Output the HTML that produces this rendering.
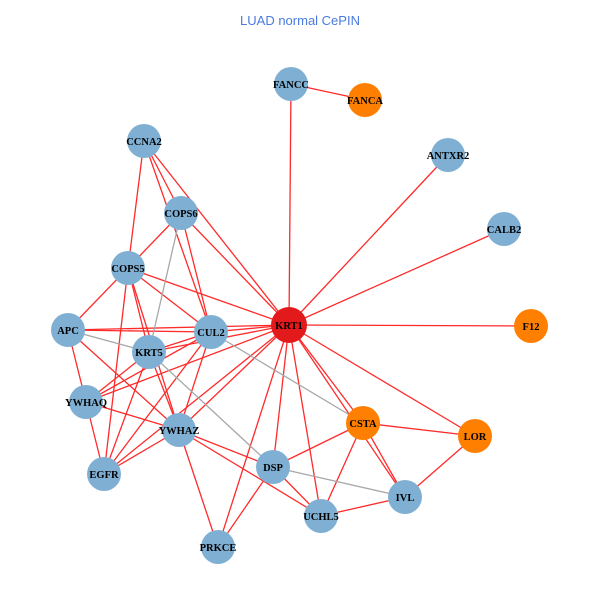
<!DOCTYPE html>
<html><head><style>body{margin:0;background:#fff}svg{display:block}</style></head><body>
<svg width="600" height="600" xmlns="http://www.w3.org/2000/svg">
<text x="300" y="25" text-anchor="middle" font-family="Liberation Sans, sans-serif" font-size="13" fill="#4a7be0">LUAD normal CePIN</text>
<g id="e" stroke-width="1.3"></g>
<g id="n"></g>
<script>
const N={FANCC:[291,84,'b'],FANCA:[365,100,'o'],CCNA2:[144,141,'b'],ANTXR2:[448,155,'b'],COPS6:[181,213,'b'],CALB2:[504,229,'b'],COPS5:[128,268,'b'],APC:[68,330,'b'],KRT1:[289,325,'r'],CUL2:[211,332,'b'],F12:[531,326,'o'],KRT5:[149,352,'b'],YWHAQ:[86,402,'b'],CSTA:[363,423,'o'],LOR:[475,436,'o'],YWHAZ:[179,430,'b'],EGFR:[104,474,'b'],DSP:[273,467,'b'],IVL:[405,497,'b'],UCHL5:[321,516,'b'],PRKCE:[218,547,'b']};
const red=`KRT1-FANCC KRT1-ANTXR2 KRT1-CALB2 KRT1-F12 KRT1-LOR KRT1-CSTA KRT1-IVL KRT1-UCHL5 KRT1-DSP KRT1-PRKCE KRT1-YWHAZ KRT1-EGFR KRT1-YWHAQ KRT1-KRT5 KRT1-CUL2 KRT1-APC KRT1-COPS5 KRT1-COPS6 KRT1-CCNA2 FANCC-FANCA CCNA2-COPS6 CCNA2-COPS5 CCNA2-CUL2 COPS6-COPS5 COPS6-CUL2 COPS5-APC COPS5-KRT5 COPS5-CUL2 COPS5-EGFR COPS5-YWHAZ APC-CUL2 APC-YWHAQ APC-YWHAZ CUL2-KRT5 CUL2-YWHAQ CUL2-YWHAZ CUL2-EGFR KRT5-YWHAZ KRT5-YWHAQ KRT5-EGFR YWHAQ-YWHAZ YWHAQ-EGFR YWHAZ-EGFR YWHAZ-DSP YWHAZ-UCHL5 YWHAZ-PRKCE DSP-CSTA DSP-UCHL5 DSP-PRKCE CSTA-IVL CSTA-UCHL5 CSTA-LOR LOR-IVL IVL-UCHL5`.split(' ');
const gray='COPS6-KRT5 APC-KRT5 CUL2-CSTA KRT5-DSP DSP-IVL'.split(' ');
const ns='http://www.w3.org/2000/svg',E=document.getElementById('e'),G=document.getElementById('n');
function line(p,c){const[a,b]=p.split('-');const l=document.createElementNS(ns,'line');l.setAttribute('x1',N[a][0]);l.setAttribute('y1',N[a][1]);l.setAttribute('x2',N[b][0]);l.setAttribute('y2',N[b][1]);l.setAttribute('stroke',c);E.appendChild(l);}
red.forEach(p=>line(p,'#ff2a2a'));gray.forEach(p=>line(p,'#a8a8a8'));
const col={b:'#7fb0d4',o:'#ff8000',r:'#e31a1c'};
for(const k in N){const[x,y,t]=N[k];const c=document.createElementNS(ns,'circle');c.setAttribute('cx',x);c.setAttribute('cy',y);c.setAttribute('r',t=='r'?18:17);c.setAttribute('fill',col[t]);G.appendChild(c);
const s=document.createElementNS(ns,'text');s.setAttribute('x',x);s.setAttribute('y',y+4);s.setAttribute('text-anchor','middle');s.setAttribute('font-family','Liberation Serif, serif');s.setAttribute('font-weight','bold');s.setAttribute('font-size','10.5');s.textContent=k;G.appendChild(s);}
</script>
</svg>
</body></html>
